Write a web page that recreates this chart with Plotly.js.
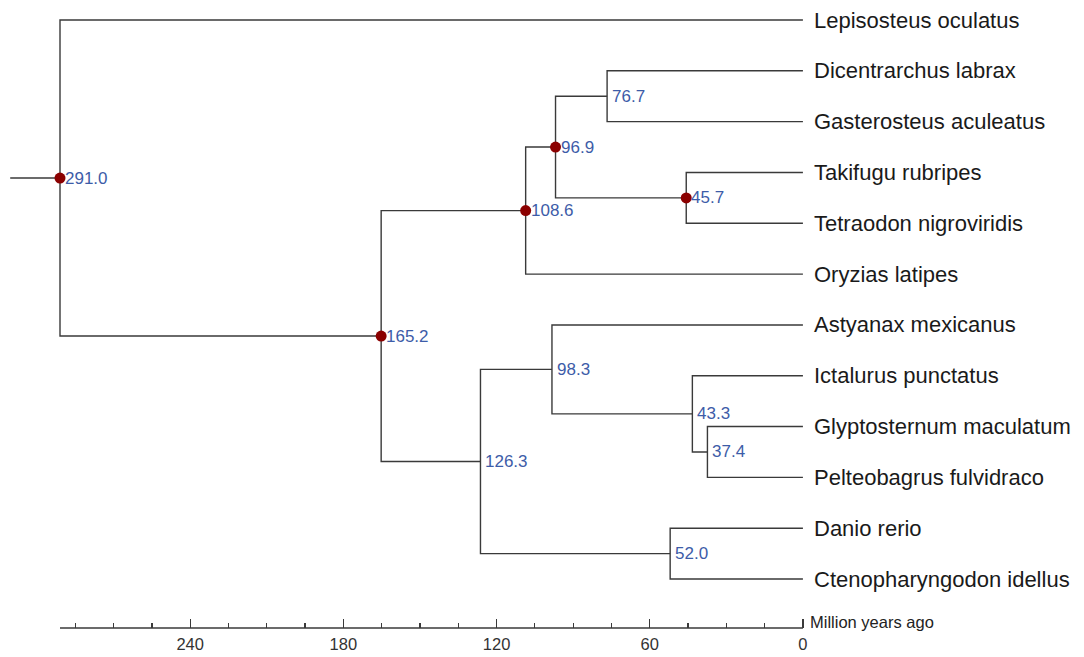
<!DOCTYPE html>
<html>
<head>
<meta charset="utf-8">
<script src="https://cdn.plot.ly/plotly-3.0.1.min.js"></script>
<style>html,body{margin:0;padding:0;background:#fff;}#chart{width:1084px;height:657px;}</style>
</head>
<body>
<div id="chart"></div>
<script>
// ---- data ----
const tipNames = ["Lepisosteus oculatus","Dicentrarchus labrax","Gasterosteus aculeatus","Takifugu rubripes","Tetraodon nigroviridis","Oryzias latipes","Astyanax mexicanus","Ictalurus punctatus","Glyptosternum maculatum","Pelteobagrus fulvidraco","Danio rerio","Ctenopharyngodon idellus"];
const tipAge = 0;
const nodeIds = ["root","n165","n108","n97","n77","n46","n126","n98","n43","n37","n52"];
const nodeAges = [291.0,165.2,108.6,96.9,76.7,45.7,126.3,98.3,43.3,37.4,52.0];
const nodeChildren = [
  ["Lepisosteus oculatus","n165"],
  ["n108","n126"],
  ["n97","Oryzias latipes"],
  ["n77","n46"],
  ["Dicentrarchus labrax","Gasterosteus aculeatus"],
  ["Takifugu rubripes","Tetraodon nigroviridis"],
  ["n98","n52"],
  ["Astyanax mexicanus","n43"],
  ["Ictalurus punctatus","n37"],
  ["Glyptosternum maculatum","Pelteobagrus fulvidraco"],
  ["Danio rerio","Ctenopharyngodon idellus"]
];
const markedNodes = ["root","n165","n108","n97","n46"];
const rootEdgeStart = 310.5;
const majorTicks = [0,60,120,180,240];
const majorTickText = ["0","60","120","180","240"];
const minorTicks = [15,30,45,75,90,105,135,150,165,195,210,225,255,270,285];
const axisEnd = 291.0;
const axisTitle = "Million years ago";

// ---- layout computation ----
const ageOf = {}, yOf = {};
tipNames.forEach((t,i)=>{ageOf[t]=tipAge; yOf[t]=i;});
nodeIds.forEach((n,i)=>{ageOf[n]=nodeAges[i];});
function placeY(id){
  if (yOf[id] !== undefined) return yOf[id];
  const k = nodeIds.indexOf(id);
  const ch = nodeChildren[k];
  yOf[id] = (placeY(ch[0]) + placeY(ch[1]))/2;
  return yOf[id];
}
placeY("root");

const lx = [], ly = [];
lx.push(rootEdgeStart, ageOf["root"], null); ly.push(yOf["root"], yOf["root"], null);
nodeIds.forEach((n,k)=>{
  const [a,b] = nodeChildren[k];
  lx.push(ageOf[a], ageOf[n], ageOf[n], ageOf[b], null);
  ly.push(yOf[a], yOf[a], yOf[b], yOf[b], null);
});

const lineColor = "#3a3a3a";
const traces = [
  {type:"scatter", mode:"lines", x:lx, y:ly, line:{color:lineColor, width:1.4}, hoverinfo:"skip", showlegend:false},
  {type:"scatter", mode:"markers", x:markedNodes.map(n=>ageOf[n]), y:markedNodes.map(n=>yOf[n]),
   marker:{color:"#8b0000", size:11, line:{width:0}}, hoverinfo:"skip", showlegend:false}
];

const annotations = [];
tipNames.forEach(t=>{
  annotations.push({x:tipAge, y:yOf[t], xref:"x", yref:"y", text:t, showarrow:false,
    xanchor:"left", yanchor:"middle", xshift:9, font:{size:22, color:"#1a1a1a"}});
});
nodeIds.forEach(n=>{
  annotations.push({x:ageOf[n], y:yOf[n], xref:"x", yref:"y", text:ageOf[n].toFixed(1), showarrow:false,
    xanchor:"left", yanchor:"middle", xshift:3, font:{size:17, color:"#3d5ca8"}});
});
const axisPos = 29/657;
annotations.push({x:tipAge, y:axisPos, xref:"x", yref:"paper", text:axisTitle, showarrow:false,
  xanchor:"left", yanchor:"middle", xshift:5, yshift:6, font:{size:16.5, color:"#222"}});

const layout = {
  width:1084, height:657,
  margin:{l:0, r:0, t:0, b:0, pad:0},
  paper_bgcolor:"#fff", plot_bgcolor:"#fff",
  font:{family:"Liberation Sans, Arial, sans-serif"},
  showlegend:false,
  xaxis:{range:[314.5,-110.1], showgrid:false, zeroline:false, showline:false,
    anchor:"free", position:axisPos, ticks:"inside", tickmode:"array",
    tickvals:majorTicks, ticktext:majorTickText, ticklen:9, tickwidth:1.3, tickcolor:lineColor,
    ticklabelstandoff:4,
    tickfont:{size:16.5, color:"#333"},
    minor:{tickmode:"array", tickvals:minorTicks, ticks:"inside", ticklen:5, tickwidth:1.2, tickcolor:lineColor, showgrid:false}},
  yaxis:{range:[12.534,-0.3935], visible:false, showgrid:false, zeroline:false},
  shapes:[{type:"line", xref:"x", yref:"paper", x0:0, x1:axisEnd, y0:axisPos, y1:axisPos,
    line:{color:lineColor, width:1.4}}],
  annotations:annotations
};
Plotly.newPlot("chart", traces, layout, {displayModeBar:false, staticPlot:true});
</script>
</body>
</html>
